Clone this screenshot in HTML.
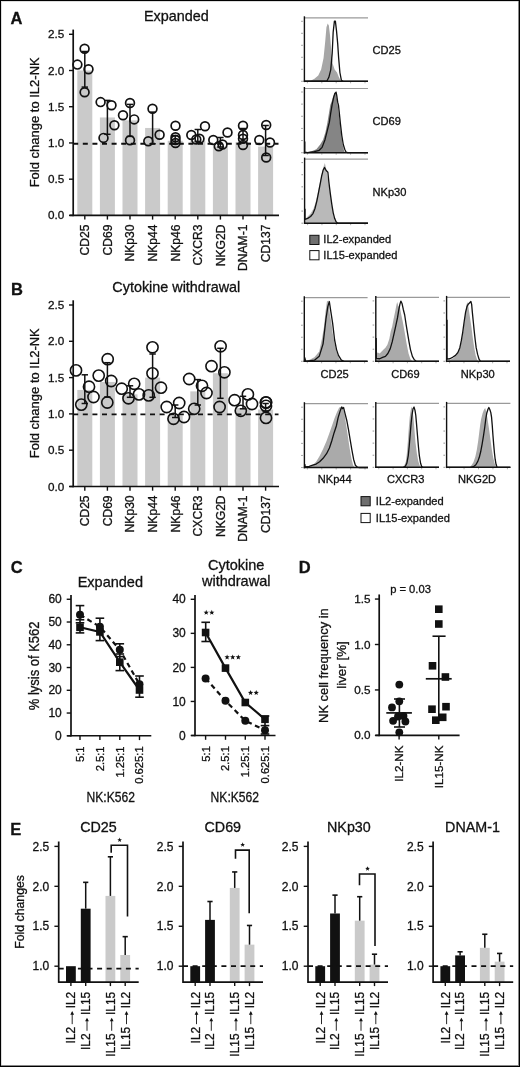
<!DOCTYPE html>
<html><head><meta charset="utf-8"><style>
html,body{margin:0;padding:0;background:#fff;}
body{width:520px;height:1067px;overflow:hidden;position:relative;}
svg{position:absolute;left:0;top:0;font-family:"Liberation Sans", sans-serif;filter:grayscale(1);}
text{stroke:#111;stroke-width:0.3px;}
.frame{position:absolute;left:0;top:0;width:520px;height:1067px;box-sizing:border-box;border:1px solid #000;box-shadow:inset -1px -1px 0 #888, inset 1px 1px 0 #ddd;}
</style></head><body>
<svg width="520" height="1067" viewBox="0 0 520 1067">
<rect x="77.30" y="70.50" width="15.00" height="144.90" fill="#cacaca" />
<rect x="99.90" y="117.45" width="15.00" height="97.95" fill="#cacaca" />
<rect x="122.50" y="120.35" width="15.00" height="95.05" fill="#cacaca" />
<rect x="145.10" y="127.95" width="15.00" height="87.45" fill="#cacaca" />
<rect x="167.70" y="140.78" width="15.00" height="74.62" fill="#cacaca" />
<rect x="190.30" y="140.78" width="15.00" height="74.62" fill="#cacaca" />
<rect x="212.90" y="146.57" width="15.00" height="68.83" fill="#cacaca" />
<rect x="235.50" y="142.23" width="15.00" height="73.17" fill="#cacaca" />
<rect x="258.10" y="146.57" width="15.00" height="68.83" fill="#cacaca" />
<line x1="73.20" y1="143.75" x2="278.50" y2="143.75" stroke="#111" stroke-width="1.9" stroke-dasharray="5,4.6"/>
<line x1="84.80" y1="51.50" x2="84.80" y2="87.10" stroke="#111" stroke-width="1.5" />
<line x1="81.60" y1="51.50" x2="88.00" y2="51.50" stroke="#111" stroke-width="1.5" />
<line x1="81.60" y1="87.10" x2="88.00" y2="87.10" stroke="#111" stroke-width="1.5" />
<line x1="107.40" y1="100.40" x2="107.40" y2="134.30" stroke="#111" stroke-width="1.5" />
<line x1="104.20" y1="100.40" x2="110.60" y2="100.40" stroke="#111" stroke-width="1.5" />
<line x1="104.20" y1="134.30" x2="110.60" y2="134.30" stroke="#111" stroke-width="1.5" />
<line x1="130.00" y1="104.40" x2="130.00" y2="136.40" stroke="#111" stroke-width="1.5" />
<line x1="126.80" y1="104.40" x2="133.20" y2="104.40" stroke="#111" stroke-width="1.5" />
<line x1="126.80" y1="136.40" x2="133.20" y2="136.40" stroke="#111" stroke-width="1.5" />
<line x1="152.60" y1="112.10" x2="152.60" y2="143.80" stroke="#111" stroke-width="1.5" />
<line x1="149.40" y1="112.10" x2="155.80" y2="112.10" stroke="#111" stroke-width="1.5" />
<line x1="149.40" y1="143.80" x2="155.80" y2="143.80" stroke="#111" stroke-width="1.5" />
<line x1="175.20" y1="135.50" x2="175.20" y2="143.50" stroke="#111" stroke-width="1.5" />
<line x1="172.00" y1="135.50" x2="178.40" y2="135.50" stroke="#111" stroke-width="1.5" />
<line x1="172.00" y1="143.50" x2="178.40" y2="143.50" stroke="#111" stroke-width="1.5" />
<line x1="197.80" y1="129.50" x2="197.80" y2="141.50" stroke="#111" stroke-width="1.5" />
<line x1="194.60" y1="129.50" x2="201.00" y2="129.50" stroke="#111" stroke-width="1.5" />
<line x1="194.60" y1="141.50" x2="201.00" y2="141.50" stroke="#111" stroke-width="1.5" />
<line x1="220.40" y1="137.50" x2="220.40" y2="147.00" stroke="#111" stroke-width="1.5" />
<line x1="217.20" y1="137.50" x2="223.60" y2="137.50" stroke="#111" stroke-width="1.5" />
<line x1="217.20" y1="147.00" x2="223.60" y2="147.00" stroke="#111" stroke-width="1.5" />
<line x1="243.00" y1="128.50" x2="243.00" y2="142.50" stroke="#111" stroke-width="1.5" />
<line x1="239.80" y1="128.50" x2="246.20" y2="128.50" stroke="#111" stroke-width="1.5" />
<line x1="239.80" y1="142.50" x2="246.20" y2="142.50" stroke="#111" stroke-width="1.5" />
<line x1="265.60" y1="125.50" x2="265.60" y2="155.50" stroke="#111" stroke-width="1.5" />
<line x1="262.40" y1="125.50" x2="268.80" y2="125.50" stroke="#111" stroke-width="1.5" />
<line x1="262.40" y1="155.50" x2="268.80" y2="155.50" stroke="#111" stroke-width="1.5" />
<circle cx="84.60" cy="48.80" r="4.4" fill="none" stroke="#111" stroke-width="1.7"/>
<circle cx="77.40" cy="64.60" r="4.4" fill="none" stroke="#111" stroke-width="1.7"/>
<circle cx="88.50" cy="69.20" r="4.4" fill="none" stroke="#111" stroke-width="1.7"/>
<circle cx="84.60" cy="92.30" r="4.4" fill="none" stroke="#111" stroke-width="1.7"/>
<circle cx="100.60" cy="102.10" r="4.4" fill="none" stroke="#111" stroke-width="1.7"/>
<circle cx="111.50" cy="105.20" r="4.4" fill="none" stroke="#111" stroke-width="1.7"/>
<circle cx="114.40" cy="125.20" r="4.4" fill="none" stroke="#111" stroke-width="1.7"/>
<circle cx="103.50" cy="137.90" r="4.4" fill="none" stroke="#111" stroke-width="1.7"/>
<circle cx="123.00" cy="115.20" r="4.4" fill="none" stroke="#111" stroke-width="1.7"/>
<circle cx="130.00" cy="103.00" r="4.4" fill="none" stroke="#111" stroke-width="1.7"/>
<circle cx="134.20" cy="119.40" r="4.4" fill="none" stroke="#111" stroke-width="1.7"/>
<circle cx="130.00" cy="140.20" r="4.4" fill="none" stroke="#111" stroke-width="1.7"/>
<circle cx="152.50" cy="108.80" r="4.4" fill="none" stroke="#111" stroke-width="1.7"/>
<circle cx="159.60" cy="134.80" r="4.4" fill="none" stroke="#111" stroke-width="1.7"/>
<circle cx="148.30" cy="141.20" r="4.4" fill="none" stroke="#111" stroke-width="1.7"/>
<circle cx="175.50" cy="125.80" r="4.4" fill="none" stroke="#111" stroke-width="1.7"/>
<circle cx="175.50" cy="137.20" r="4.4" fill="none" stroke="#111" stroke-width="1.7"/>
<circle cx="175.50" cy="140.00" r="4.4" fill="none" stroke="#111" stroke-width="1.7"/>
<circle cx="175.50" cy="143.00" r="4.4" fill="none" stroke="#111" stroke-width="1.7"/>
<circle cx="191.30" cy="135.00" r="4.4" fill="none" stroke="#111" stroke-width="1.7"/>
<circle cx="205.00" cy="126.30" r="4.4" fill="none" stroke="#111" stroke-width="1.7"/>
<circle cx="196.30" cy="139.50" r="4.4" fill="none" stroke="#111" stroke-width="1.7"/>
<circle cx="199.50" cy="138.80" r="4.4" fill="none" stroke="#111" stroke-width="1.7"/>
<circle cx="213.30" cy="140.00" r="4.4" fill="none" stroke="#111" stroke-width="1.7"/>
<circle cx="227.50" cy="132.50" r="4.4" fill="none" stroke="#111" stroke-width="1.7"/>
<circle cx="218.80" cy="146.30" r="4.4" fill="none" stroke="#111" stroke-width="1.7"/>
<circle cx="222.50" cy="144.50" r="4.4" fill="none" stroke="#111" stroke-width="1.7"/>
<circle cx="243.00" cy="125.80" r="4.4" fill="none" stroke="#111" stroke-width="1.7"/>
<circle cx="243.00" cy="135.00" r="4.4" fill="none" stroke="#111" stroke-width="1.7"/>
<circle cx="243.00" cy="138.80" r="4.4" fill="none" stroke="#111" stroke-width="1.7"/>
<circle cx="243.00" cy="145.00" r="4.4" fill="none" stroke="#111" stroke-width="1.7"/>
<circle cx="259.30" cy="140.00" r="4.4" fill="none" stroke="#111" stroke-width="1.7"/>
<circle cx="266.20" cy="125.00" r="4.4" fill="none" stroke="#111" stroke-width="1.7"/>
<circle cx="270.00" cy="142.50" r="4.4" fill="none" stroke="#111" stroke-width="1.7"/>
<circle cx="266.20" cy="157.50" r="4.4" fill="none" stroke="#111" stroke-width="1.7"/>
<line x1="73.20" y1="29.58" x2="73.20" y2="216.20" stroke="#111" stroke-width="1.7" />
<line x1="69.60" y1="215.40" x2="279.00" y2="215.40" stroke="#111" stroke-width="1.6" />
<line x1="69.00" y1="215.40" x2="73.20" y2="215.40" stroke="#111" stroke-width="1.4" />
<text x="64.20" y="219.40" font-size="11.7" text-anchor="end" font-weight="normal" fill="#111" >0.0</text>
<line x1="69.00" y1="179.18" x2="73.20" y2="179.18" stroke="#111" stroke-width="1.4" />
<text x="64.20" y="183.18" font-size="11.7" text-anchor="end" font-weight="normal" fill="#111" >0.5</text>
<line x1="69.00" y1="142.95" x2="73.20" y2="142.95" stroke="#111" stroke-width="1.4" />
<text x="64.20" y="146.95" font-size="11.7" text-anchor="end" font-weight="normal" fill="#111" >1.0</text>
<line x1="69.00" y1="106.72" x2="73.20" y2="106.72" stroke="#111" stroke-width="1.4" />
<text x="64.20" y="110.72" font-size="11.7" text-anchor="end" font-weight="normal" fill="#111" >1.5</text>
<line x1="69.00" y1="70.50" x2="73.20" y2="70.50" stroke="#111" stroke-width="1.4" />
<text x="64.20" y="74.50" font-size="11.7" text-anchor="end" font-weight="normal" fill="#111" >2.0</text>
<line x1="69.00" y1="34.28" x2="73.20" y2="34.28" stroke="#111" stroke-width="1.4" />
<text x="64.20" y="38.28" font-size="11.7" text-anchor="end" font-weight="normal" fill="#111" >2.5</text>
<line x1="84.80" y1="215.40" x2="84.80" y2="219.60" stroke="#111" stroke-width="1.4" />
<text transform="translate(89.20,224.60) rotate(-90)" font-size="12.1" text-anchor="end" fill="#111" >CD25</text>
<line x1="107.40" y1="215.40" x2="107.40" y2="219.60" stroke="#111" stroke-width="1.4" />
<text transform="translate(111.80,224.60) rotate(-90)" font-size="12.1" text-anchor="end" fill="#111" >CD69</text>
<line x1="130.00" y1="215.40" x2="130.00" y2="219.60" stroke="#111" stroke-width="1.4" />
<text transform="translate(134.40,224.60) rotate(-90)" font-size="12.1" text-anchor="end" fill="#111" >NKp30</text>
<line x1="152.60" y1="215.40" x2="152.60" y2="219.60" stroke="#111" stroke-width="1.4" />
<text transform="translate(157.00,224.60) rotate(-90)" font-size="12.1" text-anchor="end" fill="#111" >NKp44</text>
<line x1="175.20" y1="215.40" x2="175.20" y2="219.60" stroke="#111" stroke-width="1.4" />
<text transform="translate(179.60,224.60) rotate(-90)" font-size="12.1" text-anchor="end" fill="#111" >NKp46</text>
<line x1="197.80" y1="215.40" x2="197.80" y2="219.60" stroke="#111" stroke-width="1.4" />
<text transform="translate(202.20,224.60) rotate(-90)" font-size="12.1" text-anchor="end" fill="#111" >CXCR3</text>
<line x1="220.40" y1="215.40" x2="220.40" y2="219.60" stroke="#111" stroke-width="1.4" />
<text transform="translate(224.80,224.60) rotate(-90)" font-size="12.1" text-anchor="end" fill="#111" >NKG2D</text>
<line x1="243.00" y1="215.40" x2="243.00" y2="219.60" stroke="#111" stroke-width="1.4" />
<text transform="translate(247.40,224.60) rotate(-90)" font-size="12.1" text-anchor="end" fill="#111" >DNAM-1</text>
<line x1="265.60" y1="215.40" x2="265.60" y2="219.60" stroke="#111" stroke-width="1.4" />
<text transform="translate(270.00,224.60) rotate(-90)" font-size="12.1" text-anchor="end" fill="#111" >CD137</text>
<text transform="translate(38.80,122.34) rotate(-90)" font-size="13" text-anchor="middle" fill="#111" >Fold change to IL2-NK</text>
<text x="176.30" y="21.30" font-size="14.4" text-anchor="middle" font-weight="normal" fill="#111" >Expanded</text>
<text x="10.50" y="23.60" font-size="16.5" text-anchor="start" font-weight="bold" fill="#111" >A</text>
<rect x="77.30" y="389.94" width="15.00" height="96.56" fill="#cacaca" />
<rect x="99.90" y="381.96" width="15.00" height="104.54" fill="#cacaca" />
<rect x="122.50" y="394.30" width="15.00" height="92.20" fill="#cacaca" />
<rect x="145.10" y="377.60" width="15.00" height="108.90" fill="#cacaca" />
<rect x="167.70" y="415.35" width="15.00" height="71.15" fill="#cacaca" />
<rect x="190.30" y="391.39" width="15.00" height="95.11" fill="#cacaca" />
<rect x="212.90" y="373.24" width="15.00" height="113.26" fill="#cacaca" />
<rect x="235.50" y="408.09" width="15.00" height="78.41" fill="#cacaca" />
<rect x="258.10" y="409.54" width="15.00" height="76.96" fill="#cacaca" />
<line x1="73.20" y1="414.40" x2="278.50" y2="414.40" stroke="#111" stroke-width="1.9" stroke-dasharray="5,4.6"/>
<line x1="84.80" y1="374.80" x2="84.80" y2="403.50" stroke="#111" stroke-width="1.5" />
<line x1="81.60" y1="374.80" x2="88.00" y2="374.80" stroke="#111" stroke-width="1.5" />
<line x1="81.60" y1="403.50" x2="88.00" y2="403.50" stroke="#111" stroke-width="1.5" />
<line x1="107.40" y1="362.70" x2="107.40" y2="397.00" stroke="#111" stroke-width="1.5" />
<line x1="104.20" y1="362.70" x2="110.60" y2="362.70" stroke="#111" stroke-width="1.5" />
<line x1="104.20" y1="397.00" x2="110.60" y2="397.00" stroke="#111" stroke-width="1.5" />
<line x1="130.00" y1="385.80" x2="130.00" y2="397.30" stroke="#111" stroke-width="1.5" />
<line x1="126.80" y1="385.80" x2="133.20" y2="385.80" stroke="#111" stroke-width="1.5" />
<line x1="126.80" y1="397.30" x2="133.20" y2="397.30" stroke="#111" stroke-width="1.5" />
<line x1="152.60" y1="354.00" x2="152.60" y2="397.30" stroke="#111" stroke-width="1.5" />
<line x1="149.40" y1="354.00" x2="155.80" y2="354.00" stroke="#111" stroke-width="1.5" />
<line x1="149.40" y1="397.30" x2="155.80" y2="397.30" stroke="#111" stroke-width="1.5" />
<line x1="175.20" y1="405.00" x2="175.20" y2="417.50" stroke="#111" stroke-width="1.5" />
<line x1="172.00" y1="405.00" x2="178.40" y2="405.00" stroke="#111" stroke-width="1.5" />
<line x1="172.00" y1="417.50" x2="178.40" y2="417.50" stroke="#111" stroke-width="1.5" />
<line x1="197.80" y1="379.60" x2="197.80" y2="405.00" stroke="#111" stroke-width="1.5" />
<line x1="194.60" y1="379.60" x2="201.00" y2="379.60" stroke="#111" stroke-width="1.5" />
<line x1="194.60" y1="405.00" x2="201.00" y2="405.00" stroke="#111" stroke-width="1.5" />
<line x1="220.40" y1="348.30" x2="220.40" y2="398.30" stroke="#111" stroke-width="1.5" />
<line x1="217.20" y1="348.30" x2="223.60" y2="348.30" stroke="#111" stroke-width="1.5" />
<line x1="217.20" y1="398.30" x2="223.60" y2="398.30" stroke="#111" stroke-width="1.5" />
<line x1="243.00" y1="396.30" x2="243.00" y2="408.80" stroke="#111" stroke-width="1.5" />
<line x1="239.80" y1="396.30" x2="246.20" y2="396.30" stroke="#111" stroke-width="1.5" />
<line x1="239.80" y1="408.80" x2="246.20" y2="408.80" stroke="#111" stroke-width="1.5" />
<line x1="265.60" y1="403.50" x2="265.60" y2="411.00" stroke="#111" stroke-width="1.5" />
<line x1="262.40" y1="403.50" x2="268.80" y2="403.50" stroke="#111" stroke-width="1.5" />
<line x1="262.40" y1="411.00" x2="268.80" y2="411.00" stroke="#111" stroke-width="1.5" />
<circle cx="76.00" cy="370.40" r="5.6" fill="none" stroke="#111" stroke-width="1.6"/>
<circle cx="81.30" cy="404.60" r="5.6" fill="none" stroke="#111" stroke-width="1.6"/>
<circle cx="89.00" cy="386.70" r="5.6" fill="none" stroke="#111" stroke-width="1.6"/>
<circle cx="93.50" cy="397.00" r="5.6" fill="none" stroke="#111" stroke-width="1.6"/>
<circle cx="98.70" cy="375.60" r="5.6" fill="none" stroke="#111" stroke-width="1.6"/>
<circle cx="107.70" cy="359.20" r="5.6" fill="none" stroke="#111" stroke-width="1.6"/>
<circle cx="111.20" cy="381.00" r="5.6" fill="none" stroke="#111" stroke-width="1.6"/>
<circle cx="107.30" cy="402.50" r="5.6" fill="none" stroke="#111" stroke-width="1.6"/>
<circle cx="121.70" cy="388.70" r="5.6" fill="none" stroke="#111" stroke-width="1.6"/>
<circle cx="128.50" cy="398.30" r="5.6" fill="none" stroke="#111" stroke-width="1.6"/>
<circle cx="134.20" cy="383.80" r="5.6" fill="none" stroke="#111" stroke-width="1.6"/>
<circle cx="139.00" cy="394.40" r="5.6" fill="none" stroke="#111" stroke-width="1.6"/>
<circle cx="152.50" cy="347.30" r="5.6" fill="none" stroke="#111" stroke-width="1.6"/>
<circle cx="152.50" cy="373.30" r="5.6" fill="none" stroke="#111" stroke-width="1.6"/>
<circle cx="148.70" cy="395.40" r="5.6" fill="none" stroke="#111" stroke-width="1.6"/>
<circle cx="161.00" cy="387.70" r="5.6" fill="none" stroke="#111" stroke-width="1.6"/>
<circle cx="166.70" cy="407.00" r="5.6" fill="none" stroke="#111" stroke-width="1.6"/>
<circle cx="179.20" cy="403.00" r="5.6" fill="none" stroke="#111" stroke-width="1.6"/>
<circle cx="173.50" cy="418.80" r="5.6" fill="none" stroke="#111" stroke-width="1.6"/>
<circle cx="184.00" cy="417.00" r="5.6" fill="none" stroke="#111" stroke-width="1.6"/>
<circle cx="189.20" cy="379.00" r="5.6" fill="none" stroke="#111" stroke-width="1.6"/>
<circle cx="202.00" cy="385.80" r="5.6" fill="none" stroke="#111" stroke-width="1.6"/>
<circle cx="206.50" cy="393.00" r="5.6" fill="none" stroke="#111" stroke-width="1.6"/>
<circle cx="194.20" cy="408.80" r="5.6" fill="none" stroke="#111" stroke-width="1.6"/>
<circle cx="220.60" cy="346.30" r="5.6" fill="none" stroke="#111" stroke-width="1.6"/>
<circle cx="211.50" cy="366.20" r="5.6" fill="none" stroke="#111" stroke-width="1.6"/>
<circle cx="224.40" cy="372.30" r="5.6" fill="none" stroke="#111" stroke-width="1.6"/>
<circle cx="219.60" cy="407.00" r="5.6" fill="none" stroke="#111" stroke-width="1.6"/>
<circle cx="234.60" cy="400.20" r="5.6" fill="none" stroke="#111" stroke-width="1.6"/>
<circle cx="247.90" cy="394.40" r="5.6" fill="none" stroke="#111" stroke-width="1.6"/>
<circle cx="252.00" cy="404.00" r="5.6" fill="none" stroke="#111" stroke-width="1.6"/>
<circle cx="240.80" cy="410.80" r="5.6" fill="none" stroke="#111" stroke-width="1.6"/>
<circle cx="266.00" cy="402.30" r="5.6" fill="none" stroke="#111" stroke-width="1.6"/>
<circle cx="266.00" cy="402.60" r="5.6" fill="none" stroke="#111" stroke-width="1.6"/>
<circle cx="266.00" cy="405.90" r="5.6" fill="none" stroke="#111" stroke-width="1.6"/>
<circle cx="266.00" cy="417.90" r="5.6" fill="none" stroke="#111" stroke-width="1.6"/>
<line x1="73.20" y1="300.30" x2="73.20" y2="487.30" stroke="#111" stroke-width="1.7" />
<line x1="69.60" y1="486.50" x2="279.00" y2="486.50" stroke="#111" stroke-width="1.6" />
<line x1="69.00" y1="486.50" x2="73.20" y2="486.50" stroke="#111" stroke-width="1.4" />
<text x="64.20" y="490.50" font-size="11.7" text-anchor="end" font-weight="normal" fill="#111" >0.0</text>
<line x1="69.00" y1="450.20" x2="73.20" y2="450.20" stroke="#111" stroke-width="1.4" />
<text x="64.20" y="454.20" font-size="11.7" text-anchor="end" font-weight="normal" fill="#111" >0.5</text>
<line x1="69.00" y1="413.90" x2="73.20" y2="413.90" stroke="#111" stroke-width="1.4" />
<text x="64.20" y="417.90" font-size="11.7" text-anchor="end" font-weight="normal" fill="#111" >1.0</text>
<line x1="69.00" y1="377.60" x2="73.20" y2="377.60" stroke="#111" stroke-width="1.4" />
<text x="64.20" y="381.60" font-size="11.7" text-anchor="end" font-weight="normal" fill="#111" >1.5</text>
<line x1="69.00" y1="341.30" x2="73.20" y2="341.30" stroke="#111" stroke-width="1.4" />
<text x="64.20" y="345.30" font-size="11.7" text-anchor="end" font-weight="normal" fill="#111" >2.0</text>
<line x1="69.00" y1="305.00" x2="73.20" y2="305.00" stroke="#111" stroke-width="1.4" />
<text x="64.20" y="309.00" font-size="11.7" text-anchor="end" font-weight="normal" fill="#111" >2.5</text>
<line x1="84.80" y1="486.50" x2="84.80" y2="490.70" stroke="#111" stroke-width="1.4" />
<text transform="translate(89.20,495.40) rotate(-90)" font-size="12.1" text-anchor="end" fill="#111" >CD25</text>
<line x1="107.40" y1="486.50" x2="107.40" y2="490.70" stroke="#111" stroke-width="1.4" />
<text transform="translate(111.80,495.40) rotate(-90)" font-size="12.1" text-anchor="end" fill="#111" >CD69</text>
<line x1="130.00" y1="486.50" x2="130.00" y2="490.70" stroke="#111" stroke-width="1.4" />
<text transform="translate(134.40,495.40) rotate(-90)" font-size="12.1" text-anchor="end" fill="#111" >NKp30</text>
<line x1="152.60" y1="486.50" x2="152.60" y2="490.70" stroke="#111" stroke-width="1.4" />
<text transform="translate(157.00,495.40) rotate(-90)" font-size="12.1" text-anchor="end" fill="#111" >NKp44</text>
<line x1="175.20" y1="486.50" x2="175.20" y2="490.70" stroke="#111" stroke-width="1.4" />
<text transform="translate(179.60,495.40) rotate(-90)" font-size="12.1" text-anchor="end" fill="#111" >NKp46</text>
<line x1="197.80" y1="486.50" x2="197.80" y2="490.70" stroke="#111" stroke-width="1.4" />
<text transform="translate(202.20,495.40) rotate(-90)" font-size="12.1" text-anchor="end" fill="#111" >CXCR3</text>
<line x1="220.40" y1="486.50" x2="220.40" y2="490.70" stroke="#111" stroke-width="1.4" />
<text transform="translate(224.80,495.40) rotate(-90)" font-size="12.1" text-anchor="end" fill="#111" >NKG2D</text>
<line x1="243.00" y1="486.50" x2="243.00" y2="490.70" stroke="#111" stroke-width="1.4" />
<text transform="translate(247.40,495.40) rotate(-90)" font-size="12.1" text-anchor="end" fill="#111" >DNAM-1</text>
<line x1="265.60" y1="486.50" x2="265.60" y2="490.70" stroke="#111" stroke-width="1.4" />
<text transform="translate(270.00,495.40) rotate(-90)" font-size="12.1" text-anchor="end" fill="#111" >CD137</text>
<text transform="translate(38.80,393.25) rotate(-90)" font-size="13" text-anchor="middle" fill="#111" >Fold change to IL2-NK</text>
<text x="176.30" y="292.30" font-size="14.4" text-anchor="middle" font-weight="normal" fill="#111" >Cytokine withdrawal</text>
<text x="11.00" y="295.40" font-size="16.5" text-anchor="start" font-weight="bold" fill="#111" >B</text>
<line x1="304.40" y1="17.80" x2="368.00" y2="17.80" stroke="#9a9a9a" stroke-width="1.2" />
<line x1="301.20" y1="81.30" x2="302.80" y2="81.30" stroke="#8a8a8a" stroke-width="0.9" />
<line x1="301.20" y1="69.30" x2="302.80" y2="69.30" stroke="#8a8a8a" stroke-width="0.9" />
<line x1="301.20" y1="57.30" x2="302.80" y2="57.30" stroke="#8a8a8a" stroke-width="0.9" />
<line x1="301.20" y1="45.30" x2="302.80" y2="45.30" stroke="#8a8a8a" stroke-width="0.9" />
<line x1="301.20" y1="33.30" x2="302.80" y2="33.30" stroke="#8a8a8a" stroke-width="0.9" />
<line x1="301.20" y1="21.30" x2="302.80" y2="21.30" stroke="#8a8a8a" stroke-width="0.9" />
<line x1="307.40" y1="81.90" x2="307.40" y2="83.30" stroke="#999" stroke-width="0.8" />
<line x1="321.80" y1="81.90" x2="321.80" y2="83.30" stroke="#999" stroke-width="0.8" />
<line x1="336.20" y1="81.90" x2="336.20" y2="83.30" stroke="#999" stroke-width="0.8" />
<line x1="350.60" y1="81.90" x2="350.60" y2="83.30" stroke="#999" stroke-width="0.8" />
<line x1="365.00" y1="81.90" x2="365.00" y2="83.30" stroke="#999" stroke-width="0.8" />
<path d="M304.40,81.30 L304.40,81.30 L310.58,80.67 L314.42,78.75 L318.27,75.38 L321.15,69.62 L323.56,58.08 L325.19,41.73 L326.44,27.31 L327.69,23.46 L328.85,25.38 L330.00,35.00 L331.25,50.38 L332.69,63.85 L334.62,69.62 L337.02,72.50 L338.94,77.31 L340.87,80.67 L342.79,81.30 L342.79,81.30 Z" fill="#a6a6a6" stroke="none"/>
<path d="M304.80,81.15 L326.92,81.06 L328.85,77.31 L330.77,69.62 L332.21,53.27 L333.17,32.12 L334.42,21.06 L335.38,21.06 L336.54,31.15 L337.69,43.65 L338.65,58.08 L339.90,72.50 L341.35,80.19 L343.27,81.30 L368.00,81.30" fill="none" stroke="#111" stroke-width="1.3" stroke-linejoin="round"/>
<line x1="304.40" y1="16.30" x2="304.40" y2="82.10" stroke="#111" stroke-width="1.4" />
<line x1="303.70" y1="81.30" x2="368.00" y2="81.30" stroke="#111" stroke-width="1.5" />
<line x1="304.40" y1="88.50" x2="368.00" y2="88.50" stroke="#9a9a9a" stroke-width="1.2" />
<line x1="301.20" y1="152.70" x2="302.80" y2="152.70" stroke="#8a8a8a" stroke-width="0.9" />
<line x1="301.20" y1="140.56" x2="302.80" y2="140.56" stroke="#8a8a8a" stroke-width="0.9" />
<line x1="301.20" y1="128.42" x2="302.80" y2="128.42" stroke="#8a8a8a" stroke-width="0.9" />
<line x1="301.20" y1="116.28" x2="302.80" y2="116.28" stroke="#8a8a8a" stroke-width="0.9" />
<line x1="301.20" y1="104.14" x2="302.80" y2="104.14" stroke="#8a8a8a" stroke-width="0.9" />
<line x1="301.20" y1="92.00" x2="302.80" y2="92.00" stroke="#8a8a8a" stroke-width="0.9" />
<line x1="307.40" y1="153.30" x2="307.40" y2="154.70" stroke="#999" stroke-width="0.8" />
<line x1="321.80" y1="153.30" x2="321.80" y2="154.70" stroke="#999" stroke-width="0.8" />
<line x1="336.20" y1="153.30" x2="336.20" y2="154.70" stroke="#999" stroke-width="0.8" />
<line x1="350.60" y1="153.30" x2="350.60" y2="154.70" stroke="#999" stroke-width="0.8" />
<line x1="365.00" y1="153.30" x2="365.00" y2="154.70" stroke="#999" stroke-width="0.8" />
<path d="M304.40,152.70 L304.40,152.67 L311.54,151.23 L316.35,149.31 L320.19,144.50 L323.08,139.69 L325.48,132.00 L327.40,122.38 L328.85,113.73 L330.29,105.08 L331.73,101.23 L333.17,96.42 L334.62,93.54 L335.77,92.58 L337.02,99.31 L338.46,110.85 L339.90,122.38 L341.35,135.85 L342.79,145.46 L344.23,151.23 L345.67,152.67 L345.67,152.70 Z" fill="#858585" stroke="none"/>
<path d="M304.80,141.62 L304.81,152.19 L307.69,152.67 L314.42,151.71 L319.23,150.27 L322.12,147.38 L325.00,139.69 L327.40,130.08 L329.33,122.38 L330.77,112.77 L332.21,104.12 L333.65,97.38 L334.81,93.54 L336.06,92.10 L336.73,95.46 L337.69,102.19 L338.46,105.08 L339.42,113.73 L340.38,123.35 L341.83,135.85 L343.27,144.50 L344.71,149.31 L346.15,152.19 L347.60,152.67 L368.00,152.70" fill="none" stroke="#111" stroke-width="1.3" stroke-linejoin="round"/>
<line x1="304.40" y1="87.00" x2="304.40" y2="153.50" stroke="#111" stroke-width="1.4" />
<line x1="303.70" y1="152.70" x2="368.00" y2="152.70" stroke="#111" stroke-width="1.5" />
<line x1="304.60" y1="159.10" x2="368.00" y2="159.10" stroke="#9a9a9a" stroke-width="1.2" />
<line x1="301.40" y1="223.20" x2="303.00" y2="223.20" stroke="#8a8a8a" stroke-width="0.9" />
<line x1="301.40" y1="211.08" x2="303.00" y2="211.08" stroke="#8a8a8a" stroke-width="0.9" />
<line x1="301.40" y1="198.96" x2="303.00" y2="198.96" stroke="#8a8a8a" stroke-width="0.9" />
<line x1="301.40" y1="186.84" x2="303.00" y2="186.84" stroke="#8a8a8a" stroke-width="0.9" />
<line x1="301.40" y1="174.72" x2="303.00" y2="174.72" stroke="#8a8a8a" stroke-width="0.9" />
<line x1="301.40" y1="162.60" x2="303.00" y2="162.60" stroke="#8a8a8a" stroke-width="0.9" />
<line x1="307.60" y1="223.80" x2="307.60" y2="225.20" stroke="#999" stroke-width="0.8" />
<line x1="321.95" y1="223.80" x2="321.95" y2="225.20" stroke="#999" stroke-width="0.8" />
<line x1="336.30" y1="223.80" x2="336.30" y2="225.20" stroke="#999" stroke-width="0.8" />
<line x1="350.65" y1="223.80" x2="350.65" y2="225.20" stroke="#999" stroke-width="0.8" />
<line x1="365.00" y1="223.80" x2="365.00" y2="225.20" stroke="#999" stroke-width="0.8" />
<path d="M304.81,223.20 L304.81,219.35 L307.69,216.46 L310.58,213.58 L313.46,208.77 L315.38,203.00 L317.31,195.31 L319.23,185.69 L320.67,178.96 L322.12,172.23 L323.56,166.46 L324.81,163.10 L325.96,167.42 L327.40,176.08 L328.85,184.73 L330.29,194.35 L331.73,204.92 L333.17,214.54 L334.62,220.31 L336.06,222.71 L337.50,223.19 L337.50,223.20 Z" fill="#b9b9b9" stroke="none"/>
<path d="M305.00,208.77 L305.00,219.35 L307.69,218.38 L310.58,216.46 L312.98,213.58 L314.90,208.77 L316.83,201.08 L318.75,191.46 L320.19,183.77 L321.63,176.08 L323.08,170.31 L324.52,167.42 L325.48,169.35 L326.44,170.79 L327.88,172.23 L328.85,181.85 L330.29,193.38 L331.73,203.96 L333.17,212.62 L334.62,218.38 L336.06,221.75 L337.50,223.00 L339.42,223.19 L368.00,223.20" fill="none" stroke="#111" stroke-width="1.3" stroke-linejoin="round"/>
<line x1="304.60" y1="157.60" x2="304.60" y2="224.00" stroke="#111" stroke-width="1.4" />
<line x1="303.90" y1="223.20" x2="368.00" y2="223.20" stroke="#111" stroke-width="1.5" />
<text x="372.50" y="54.00" font-size="11.1" text-anchor="start" font-weight="normal" fill="#111" >CD25</text>
<text x="372.50" y="125.00" font-size="11.1" text-anchor="start" font-weight="normal" fill="#111" >CD69</text>
<text x="372.50" y="195.70" font-size="11.1" text-anchor="start" font-weight="normal" fill="#111" >NKp30</text>
<rect x="309.80" y="235.30" width="9.20" height="9.20" fill="#6f6f6f" stroke="#111" stroke-width="1"/>
<rect x="309.80" y="250.60" width="9.20" height="9.20" fill="#fff" stroke="#111" stroke-width="1"/>
<text x="323.30" y="243.20" font-size="11.1" text-anchor="start" font-weight="normal" fill="#111" >IL2-expanded</text>
<text x="323.30" y="259.40" font-size="11.1" text-anchor="start" font-weight="normal" fill="#111" >IL15-expanded</text>
<line x1="304.30" y1="297.70" x2="367.60" y2="297.70" stroke="#9a9a9a" stroke-width="1.2" />
<line x1="301.10" y1="361.30" x2="302.70" y2="361.30" stroke="#8a8a8a" stroke-width="0.9" />
<line x1="301.10" y1="349.28" x2="302.70" y2="349.28" stroke="#8a8a8a" stroke-width="0.9" />
<line x1="301.10" y1="337.26" x2="302.70" y2="337.26" stroke="#8a8a8a" stroke-width="0.9" />
<line x1="301.10" y1="325.24" x2="302.70" y2="325.24" stroke="#8a8a8a" stroke-width="0.9" />
<line x1="301.10" y1="313.22" x2="302.70" y2="313.22" stroke="#8a8a8a" stroke-width="0.9" />
<line x1="301.10" y1="301.20" x2="302.70" y2="301.20" stroke="#8a8a8a" stroke-width="0.9" />
<line x1="307.30" y1="361.90" x2="307.30" y2="363.30" stroke="#999" stroke-width="0.8" />
<line x1="321.62" y1="361.90" x2="321.62" y2="363.30" stroke="#999" stroke-width="0.8" />
<line x1="335.95" y1="361.90" x2="335.95" y2="363.30" stroke="#999" stroke-width="0.8" />
<line x1="350.28" y1="361.90" x2="350.28" y2="363.30" stroke="#999" stroke-width="0.8" />
<line x1="364.60" y1="361.90" x2="364.60" y2="363.30" stroke="#999" stroke-width="0.8" />
<path d="M304.33,361.30 L304.33,361.30 L309.62,359.71 L314.42,357.31 L319.23,351.54 L322.12,338.08 L324.04,326.54 L325.48,312.12 L326.92,301.54 L328.37,300.58 L329.81,314.04 L331.25,321.73 L332.69,333.27 L334.62,343.85 L336.54,351.54 L339.42,359.23 L341.35,361.30 L341.35,361.30 Z" fill="#aaaaaa" stroke="none"/>
<path d="M304.70,357.31 L305.77,361.30 L314.42,360.19 L319.23,356.35 L323.08,343.85 L325.96,318.85 L327.88,306.35 L329.33,301.54 L330.77,311.15 L332.69,323.65 L334.62,340.00 L336.54,349.62 L338.46,355.38 L341.35,360.19 L344.23,361.30 L367.60,361.30" fill="none" stroke="#111" stroke-width="1.3" stroke-linejoin="round"/>
<line x1="304.30" y1="296.20" x2="304.30" y2="362.10" stroke="#111" stroke-width="1.4" />
<line x1="303.60" y1="361.30" x2="367.60" y2="361.30" stroke="#111" stroke-width="1.5" />
<line x1="375.80" y1="297.40" x2="439.00" y2="297.40" stroke="#9a9a9a" stroke-width="1.2" />
<line x1="372.60" y1="361.30" x2="374.20" y2="361.30" stroke="#8a8a8a" stroke-width="0.9" />
<line x1="372.60" y1="349.22" x2="374.20" y2="349.22" stroke="#8a8a8a" stroke-width="0.9" />
<line x1="372.60" y1="337.14" x2="374.20" y2="337.14" stroke="#8a8a8a" stroke-width="0.9" />
<line x1="372.60" y1="325.06" x2="374.20" y2="325.06" stroke="#8a8a8a" stroke-width="0.9" />
<line x1="372.60" y1="312.98" x2="374.20" y2="312.98" stroke="#8a8a8a" stroke-width="0.9" />
<line x1="372.60" y1="300.90" x2="374.20" y2="300.90" stroke="#8a8a8a" stroke-width="0.9" />
<line x1="378.80" y1="361.90" x2="378.80" y2="363.30" stroke="#999" stroke-width="0.8" />
<line x1="393.10" y1="361.90" x2="393.10" y2="363.30" stroke="#999" stroke-width="0.8" />
<line x1="407.40" y1="361.90" x2="407.40" y2="363.30" stroke="#999" stroke-width="0.8" />
<line x1="421.70" y1="361.90" x2="421.70" y2="363.30" stroke="#999" stroke-width="0.8" />
<line x1="436.00" y1="361.90" x2="436.00" y2="363.30" stroke="#999" stroke-width="0.8" />
<path d="M375.85,361.30 L375.85,353.46 L377.77,352.50 L379.69,353.46 L381.62,351.54 L383.54,349.62 L385.46,347.69 L387.38,344.81 L389.31,339.04 L390.75,331.35 L392.19,326.54 L393.63,318.85 L395.08,312.12 L396.52,304.42 L397.19,302.02 L398.44,306.35 L399.88,307.31 L401.33,315.00 L402.77,321.73 L404.69,332.31 L406.62,343.85 L408.54,353.46 L410.46,359.23 L412.38,361.30 L412.38,361.30 Z" fill="#aaaaaa" stroke="none"/>
<path d="M376.20,338.08 L376.33,358.27 L379.69,358.75 L382.58,357.31 L385.46,356.35 L387.87,353.46 L390.27,348.65 L392.19,341.92 L394.12,333.27 L396.04,324.62 L397.48,317.88 L398.92,309.23 L399.88,304.42 L400.85,301.06 L402.00,303.46 L403.25,309.23 L404.69,315.00 L406.13,324.62 L407.58,333.27 L409.02,341.92 L410.46,349.62 L412.38,356.35 L414.31,359.71 L416.23,361.15 L418.15,361.30 L439.00,361.30" fill="none" stroke="#111" stroke-width="1.3" stroke-linejoin="round"/>
<line x1="375.80" y1="295.90" x2="375.80" y2="362.10" stroke="#111" stroke-width="1.4" />
<line x1="375.10" y1="361.30" x2="439.00" y2="361.30" stroke="#111" stroke-width="1.5" />
<line x1="446.60" y1="297.40" x2="510.00" y2="297.40" stroke="#9a9a9a" stroke-width="1.2" />
<line x1="443.40" y1="361.30" x2="445.00" y2="361.30" stroke="#8a8a8a" stroke-width="0.9" />
<line x1="443.40" y1="349.22" x2="445.00" y2="349.22" stroke="#8a8a8a" stroke-width="0.9" />
<line x1="443.40" y1="337.14" x2="445.00" y2="337.14" stroke="#8a8a8a" stroke-width="0.9" />
<line x1="443.40" y1="325.06" x2="445.00" y2="325.06" stroke="#8a8a8a" stroke-width="0.9" />
<line x1="443.40" y1="312.98" x2="445.00" y2="312.98" stroke="#8a8a8a" stroke-width="0.9" />
<line x1="443.40" y1="300.90" x2="445.00" y2="300.90" stroke="#8a8a8a" stroke-width="0.9" />
<line x1="449.60" y1="361.90" x2="449.60" y2="363.30" stroke="#999" stroke-width="0.8" />
<line x1="463.95" y1="361.90" x2="463.95" y2="363.30" stroke="#999" stroke-width="0.8" />
<line x1="478.30" y1="361.90" x2="478.30" y2="363.30" stroke="#999" stroke-width="0.8" />
<line x1="492.65" y1="361.90" x2="492.65" y2="363.30" stroke="#999" stroke-width="0.8" />
<line x1="507.00" y1="361.90" x2="507.00" y2="363.30" stroke="#999" stroke-width="0.8" />
<path d="M446.85,361.30 L446.85,360.67 L449.73,359.71 L452.62,358.75 L455.50,356.35 L458.38,352.50 L460.31,346.73 L461.75,340.00 L463.19,331.35 L464.35,321.73 L465.60,312.12 L466.56,304.42 L467.52,302.02 L468.48,307.31 L469.92,316.92 L471.37,326.54 L472.81,338.08 L474.25,347.69 L475.69,355.38 L477.13,359.71 L478.58,361.30 L478.58,361.30 Z" fill="#aaaaaa" stroke="none"/>
<path d="M447.00,319.81 L447.04,359.23 L449.73,358.75 L452.62,357.31 L455.50,355.38 L457.90,352.50 L459.83,347.69 L461.27,340.96 L462.71,332.31 L464.15,321.73 L465.60,312.12 L467.04,306.35 L468.48,303.94 L469.92,302.50 L470.88,301.54 L471.65,304.42 L472.33,312.12 L473.29,321.73 L474.25,331.35 L475.21,340.00 L476.17,347.69 L477.62,354.42 L479.06,359.23 L480.50,361.30 L510.00,361.30" fill="none" stroke="#111" stroke-width="1.3" stroke-linejoin="round"/>
<line x1="446.60" y1="295.90" x2="446.60" y2="362.10" stroke="#111" stroke-width="1.4" />
<line x1="445.90" y1="361.30" x2="510.00" y2="361.30" stroke="#111" stroke-width="1.5" />
<line x1="304.40" y1="403.70" x2="368.00" y2="403.70" stroke="#9a9a9a" stroke-width="1.2" />
<line x1="301.20" y1="467.50" x2="302.80" y2="467.50" stroke="#8a8a8a" stroke-width="0.9" />
<line x1="301.20" y1="455.44" x2="302.80" y2="455.44" stroke="#8a8a8a" stroke-width="0.9" />
<line x1="301.20" y1="443.38" x2="302.80" y2="443.38" stroke="#8a8a8a" stroke-width="0.9" />
<line x1="301.20" y1="431.32" x2="302.80" y2="431.32" stroke="#8a8a8a" stroke-width="0.9" />
<line x1="301.20" y1="419.26" x2="302.80" y2="419.26" stroke="#8a8a8a" stroke-width="0.9" />
<line x1="301.20" y1="407.20" x2="302.80" y2="407.20" stroke="#8a8a8a" stroke-width="0.9" />
<line x1="307.40" y1="468.10" x2="307.40" y2="469.50" stroke="#999" stroke-width="0.8" />
<line x1="321.80" y1="468.10" x2="321.80" y2="469.50" stroke="#999" stroke-width="0.8" />
<line x1="336.20" y1="468.10" x2="336.20" y2="469.50" stroke="#999" stroke-width="0.8" />
<line x1="350.60" y1="468.10" x2="350.60" y2="469.50" stroke="#999" stroke-width="0.8" />
<line x1="365.00" y1="468.10" x2="365.00" y2="469.50" stroke="#999" stroke-width="0.8" />
<path d="M304.62,467.50 L304.62,467.50 L309.23,466.96 L312.69,465.23 L316.15,461.77 L319.61,456.00 L323.08,449.07 L326.54,441.00 L329.42,432.92 L332.31,424.85 L334.61,417.92 L336.92,412.15 L339.23,407.54 L340.96,406.96 L342.69,406.96 L344.42,413.31 L346.15,424.85 L347.88,436.38 L349.61,447.92 L351.34,458.31 L353.07,465.23 L354.81,467.50 L354.81,467.50 Z" fill="#aaaaaa" stroke="none"/>
<path d="M304.80,464.07 L305.19,466.96 L309.23,466.38 L312.69,465.23 L316.15,464.07 L319.61,461.77 L323.08,458.31 L326.54,453.69 L329.42,447.92 L331.73,441.00 L334.04,432.92 L336.34,426.00 L338.08,417.92 L339.81,412.15 L340.96,408.69 L341.77,406.96 L342.69,408.69 L343.61,407.54 L345.00,413.31 L346.73,420.23 L348.46,429.46 L350.19,439.84 L351.92,450.23 L353.65,459.46 L355.38,465.23 L357.11,466.96 L358.84,467.50 L368.00,467.50" fill="none" stroke="#111" stroke-width="1.3" stroke-linejoin="round"/>
<line x1="304.40" y1="402.20" x2="304.40" y2="468.30" stroke="#111" stroke-width="1.4" />
<line x1="303.70" y1="467.50" x2="368.00" y2="467.50" stroke="#111" stroke-width="1.5" />
<line x1="375.80" y1="403.40" x2="439.00" y2="403.40" stroke="#9a9a9a" stroke-width="1.2" />
<line x1="372.60" y1="467.30" x2="374.20" y2="467.30" stroke="#8a8a8a" stroke-width="0.9" />
<line x1="372.60" y1="455.22" x2="374.20" y2="455.22" stroke="#8a8a8a" stroke-width="0.9" />
<line x1="372.60" y1="443.14" x2="374.20" y2="443.14" stroke="#8a8a8a" stroke-width="0.9" />
<line x1="372.60" y1="431.06" x2="374.20" y2="431.06" stroke="#8a8a8a" stroke-width="0.9" />
<line x1="372.60" y1="418.98" x2="374.20" y2="418.98" stroke="#8a8a8a" stroke-width="0.9" />
<line x1="372.60" y1="406.90" x2="374.20" y2="406.90" stroke="#8a8a8a" stroke-width="0.9" />
<line x1="378.80" y1="467.90" x2="378.80" y2="469.30" stroke="#999" stroke-width="0.8" />
<line x1="393.10" y1="467.90" x2="393.10" y2="469.30" stroke="#999" stroke-width="0.8" />
<line x1="407.40" y1="467.90" x2="407.40" y2="469.30" stroke="#999" stroke-width="0.8" />
<line x1="421.70" y1="467.90" x2="421.70" y2="469.30" stroke="#999" stroke-width="0.8" />
<line x1="436.00" y1="467.90" x2="436.00" y2="469.30" stroke="#999" stroke-width="0.8" />
<path d="M402.50,467.30 L402.50,467.30 L404.42,465.23 L405.87,461.38 L406.83,453.69 L407.79,442.15 L408.75,428.69 L409.71,417.15 L410.67,410.42 L411.63,406.58 L412.60,410.42 L413.56,419.08 L414.52,430.62 L415.48,442.15 L416.92,453.69 L418.37,461.38 L419.81,465.71 L421.25,467.30 L421.25,467.30 Z" fill="#aaaaaa" stroke="none"/>
<path d="M375.80,467.30 L403.46,467.30 L405.38,466.19 L406.83,463.31 L408.27,455.62 L409.23,446.00 L410.19,434.46 L411.15,422.92 L412.12,414.27 L413.08,408.50 L414.04,407.06 L415.00,410.42 L415.77,415.23 L416.44,422.92 L417.40,434.46 L418.37,446.00 L419.33,455.62 L420.58,463.31 L421.73,466.67 L423.17,467.30 L439.00,467.30" fill="none" stroke="#111" stroke-width="1.3" stroke-linejoin="round"/>
<line x1="375.80" y1="401.90" x2="375.80" y2="468.10" stroke="#111" stroke-width="1.4" />
<line x1="375.10" y1="467.30" x2="439.00" y2="467.30" stroke="#111" stroke-width="1.5" />
<line x1="446.60" y1="403.40" x2="510.40" y2="403.40" stroke="#9a9a9a" stroke-width="1.2" />
<line x1="443.40" y1="467.30" x2="445.00" y2="467.30" stroke="#8a8a8a" stroke-width="0.9" />
<line x1="443.40" y1="455.22" x2="445.00" y2="455.22" stroke="#8a8a8a" stroke-width="0.9" />
<line x1="443.40" y1="443.14" x2="445.00" y2="443.14" stroke="#8a8a8a" stroke-width="0.9" />
<line x1="443.40" y1="431.06" x2="445.00" y2="431.06" stroke="#8a8a8a" stroke-width="0.9" />
<line x1="443.40" y1="418.98" x2="445.00" y2="418.98" stroke="#8a8a8a" stroke-width="0.9" />
<line x1="443.40" y1="406.90" x2="445.00" y2="406.90" stroke="#8a8a8a" stroke-width="0.9" />
<line x1="449.60" y1="467.90" x2="449.60" y2="469.30" stroke="#999" stroke-width="0.8" />
<line x1="464.05" y1="467.90" x2="464.05" y2="469.30" stroke="#999" stroke-width="0.8" />
<line x1="478.50" y1="467.90" x2="478.50" y2="469.30" stroke="#999" stroke-width="0.8" />
<line x1="492.95" y1="467.90" x2="492.95" y2="469.30" stroke="#999" stroke-width="0.8" />
<line x1="507.40" y1="467.90" x2="507.40" y2="469.30" stroke="#999" stroke-width="0.8" />
<path d="M469.62,467.30 L469.62,467.30 L471.54,465.23 L473.46,462.35 L475.38,456.58 L476.83,449.85 L478.27,440.23 L479.23,432.54 L480.19,424.85 L481.15,419.08 L482.60,413.31 L484.04,409.46 L485.19,408.02 L486.15,411.38 L487.40,418.12 L488.85,427.73 L490.29,438.31 L491.73,448.88 L493.17,457.54 L494.62,463.31 L496.06,466.67 L497.50,467.30 L497.50,467.30 Z" fill="#aaaaaa" stroke="none"/>
<path d="M446.60,467.30 L470.58,467.30 L473.46,466.67 L475.87,464.75 L477.79,461.38 L479.23,457.54 L480.67,451.77 L482.12,444.08 L483.56,435.42 L484.81,426.77 L485.77,419.08 L486.73,413.31 L487.88,409.46 L488.85,407.54 L489.81,409.46 L490.77,412.35 L491.54,417.15 L492.21,424.85 L492.88,434.46 L493.65,444.08 L494.42,452.73 L495.19,459.46 L496.06,464.27 L497.02,467.15 L498.46,467.30 L510.40,467.30" fill="none" stroke="#111" stroke-width="1.3" stroke-linejoin="round"/>
<line x1="446.60" y1="401.90" x2="446.60" y2="468.10" stroke="#111" stroke-width="1.4" />
<line x1="445.90" y1="467.30" x2="510.40" y2="467.30" stroke="#111" stroke-width="1.5" />
<text x="334.60" y="377.80" font-size="11.1" text-anchor="middle" font-weight="normal" fill="#111" >CD25</text>
<text x="405.40" y="377.80" font-size="11.1" text-anchor="middle" font-weight="normal" fill="#111" >CD69</text>
<text x="477.80" y="377.80" font-size="11.1" text-anchor="middle" font-weight="normal" fill="#111" >NKp30</text>
<text x="334.70" y="482.80" font-size="11.1" text-anchor="middle" font-weight="normal" fill="#111" >NKp44</text>
<text x="405.70" y="482.80" font-size="11.1" text-anchor="middle" font-weight="normal" fill="#111" >CXCR3</text>
<text x="477.00" y="482.80" font-size="11.1" text-anchor="middle" font-weight="normal" fill="#111" >NKG2D</text>
<rect x="361.00" y="496.60" width="9.20" height="9.20" fill="#6f6f6f" stroke="#111" stroke-width="1"/>
<rect x="361.00" y="513.40" width="9.20" height="9.20" fill="#fff" stroke="#111" stroke-width="1"/>
<text x="375.80" y="505.20" font-size="11.1" text-anchor="start" font-weight="normal" fill="#111" >IL2-expanded</text>
<text x="375.80" y="521.60" font-size="11.1" text-anchor="start" font-weight="normal" fill="#111" >IL15-expanded</text>
<polyline points="80.00,614.80 99.90,626.80 119.80,649.80 139.50,684.30" fill="none" stroke="#111" stroke-width="2.2" stroke-dasharray="5,3.6"/>
<polyline points="80.00,627.30 99.90,631.90 119.80,662.20 139.50,690.00" fill="none" stroke="#111" stroke-width="2.2"/>
<line x1="80.00" y1="605.60" x2="80.00" y2="632.90" stroke="#111" stroke-width="1.6" />
<line x1="75.70" y1="605.60" x2="84.30" y2="605.60" stroke="#111" stroke-width="1.6" />
<line x1="75.70" y1="632.90" x2="84.30" y2="632.90" stroke="#111" stroke-width="1.6" />
<line x1="75.70" y1="619.80" x2="84.30" y2="619.80" stroke="#111" stroke-width="1.6" />
<line x1="75.70" y1="622.80" x2="84.30" y2="622.80" stroke="#111" stroke-width="1.6" />
<line x1="99.90" y1="618.20" x2="99.90" y2="640.60" stroke="#111" stroke-width="1.6" />
<line x1="95.60" y1="618.20" x2="104.20" y2="618.20" stroke="#111" stroke-width="1.6" />
<line x1="95.60" y1="640.60" x2="104.20" y2="640.60" stroke="#111" stroke-width="1.6" />
<line x1="119.80" y1="643.80" x2="119.80" y2="670.60" stroke="#111" stroke-width="1.6" />
<line x1="115.50" y1="643.80" x2="124.10" y2="643.80" stroke="#111" stroke-width="1.6" />
<line x1="115.50" y1="670.60" x2="124.10" y2="670.60" stroke="#111" stroke-width="1.6" />
<line x1="115.50" y1="654.00" x2="124.10" y2="654.00" stroke="#111" stroke-width="1.6" />
<line x1="115.50" y1="656.60" x2="124.10" y2="656.60" stroke="#111" stroke-width="1.6" />
<line x1="139.50" y1="676.00" x2="139.50" y2="697.20" stroke="#111" stroke-width="1.6" />
<line x1="135.20" y1="676.00" x2="143.80" y2="676.00" stroke="#111" stroke-width="1.6" />
<line x1="135.20" y1="697.20" x2="143.80" y2="697.20" stroke="#111" stroke-width="1.6" />
<circle cx="80.00" cy="614.80" r="4.0" fill="#111" stroke="none" stroke-width="0"/>
<circle cx="99.90" cy="626.80" r="4.0" fill="#111" stroke="none" stroke-width="0"/>
<circle cx="119.80" cy="649.80" r="4.0" fill="#111" stroke="none" stroke-width="0"/>
<circle cx="139.50" cy="684.30" r="4.0" fill="#111" stroke="none" stroke-width="0"/>
<rect x="76.20" y="623.50" width="7.60" height="7.60" fill="#111" />
<rect x="96.10" y="628.10" width="7.60" height="7.60" fill="#111" />
<rect x="116.00" y="658.40" width="7.60" height="7.60" fill="#111" />
<rect x="135.70" y="686.20" width="7.60" height="7.60" fill="#111" />
<line x1="71.00" y1="595.07" x2="71.00" y2="736.60" stroke="#111" stroke-width="1.7" />
<line x1="67.20" y1="735.80" x2="151.30" y2="735.80" stroke="#111" stroke-width="1.6" />
<line x1="66.70" y1="735.80" x2="71.00" y2="735.80" stroke="#111" stroke-width="1.4" />
<text x="61.80" y="739.90" font-size="12.0" text-anchor="end" font-weight="normal" fill="#111" >0</text>
<line x1="66.70" y1="713.04" x2="71.00" y2="713.04" stroke="#111" stroke-width="1.4" />
<text x="61.80" y="717.14" font-size="12.0" text-anchor="end" font-weight="normal" fill="#111" >10</text>
<line x1="66.70" y1="690.29" x2="71.00" y2="690.29" stroke="#111" stroke-width="1.4" />
<text x="61.80" y="694.39" font-size="12.0" text-anchor="end" font-weight="normal" fill="#111" >20</text>
<line x1="66.70" y1="667.53" x2="71.00" y2="667.53" stroke="#111" stroke-width="1.4" />
<text x="61.80" y="671.63" font-size="12.0" text-anchor="end" font-weight="normal" fill="#111" >30</text>
<line x1="66.70" y1="644.78" x2="71.00" y2="644.78" stroke="#111" stroke-width="1.4" />
<text x="61.80" y="648.88" font-size="12.0" text-anchor="end" font-weight="normal" fill="#111" >40</text>
<line x1="66.70" y1="622.02" x2="71.00" y2="622.02" stroke="#111" stroke-width="1.4" />
<text x="61.80" y="626.12" font-size="12.0" text-anchor="end" font-weight="normal" fill="#111" >50</text>
<line x1="66.70" y1="599.27" x2="71.00" y2="599.27" stroke="#111" stroke-width="1.4" />
<text x="61.80" y="603.37" font-size="12.0" text-anchor="end" font-weight="normal" fill="#111" >60</text>
<line x1="80.00" y1="735.80" x2="80.00" y2="740.10" stroke="#111" stroke-width="1.4" />
<text transform="translate(83.90,746.40) rotate(-90)" font-size="11.2" text-anchor="end" fill="#111" >5:1</text>
<line x1="99.90" y1="735.80" x2="99.90" y2="740.10" stroke="#111" stroke-width="1.4" />
<text transform="translate(103.80,746.40) rotate(-90)" font-size="11.2" text-anchor="end" fill="#111" >2.5:1</text>
<line x1="119.80" y1="735.80" x2="119.80" y2="740.10" stroke="#111" stroke-width="1.4" />
<text transform="translate(123.70,746.40) rotate(-90)" font-size="11.2" text-anchor="end" fill="#111" >1.25:1</text>
<line x1="139.50" y1="735.80" x2="139.50" y2="740.10" stroke="#111" stroke-width="1.4" />
<text transform="translate(143.40,746.40) rotate(-90)" font-size="11.2" text-anchor="end" fill="#111" >0.625:1</text>
<text x="110.75" y="802.30" font-size="15" text-anchor="middle" font-weight="normal" fill="#111" textLength="48.5" lengthAdjust="spacingAndGlyphs">NK:K562</text>
<text x="110.30" y="587.40" font-size="14.5" text-anchor="middle" font-weight="normal" fill="#111" >Expanded</text>
<text transform="translate(39.30,665.90) rotate(-90)" font-size="14" text-anchor="middle" fill="#111" textLength="88.6" lengthAdjust="spacingAndGlyphs">% lysis of K562</text>
<polyline points="205.60,678.40 225.50,700.80 245.30,720.80 265.00,730.20" fill="none" stroke="#111" stroke-width="2.2" stroke-dasharray="5,3.6"/>
<polyline points="205.60,632.50 225.50,668.10 245.30,702.50 265.00,719.30" fill="none" stroke="#111" stroke-width="2.2"/>
<line x1="205.70" y1="622.30" x2="205.70" y2="641.50" stroke="#111" stroke-width="1.6" />
<line x1="201.40" y1="622.30" x2="210.00" y2="622.30" stroke="#111" stroke-width="1.6" />
<line x1="201.40" y1="641.50" x2="210.00" y2="641.50" stroke="#111" stroke-width="1.6" />
<line x1="265.00" y1="716.00" x2="265.00" y2="734.00" stroke="#111" stroke-width="1.6" />
<line x1="260.70" y1="716.00" x2="269.30" y2="716.00" stroke="#111" stroke-width="1.6" />
<line x1="260.70" y1="734.00" x2="269.30" y2="734.00" stroke="#111" stroke-width="1.6" />
<line x1="260.70" y1="725.60" x2="269.30" y2="725.60" stroke="#111" stroke-width="1.6" />
<circle cx="205.60" cy="678.40" r="4.0" fill="#111" stroke="none" stroke-width="0"/>
<circle cx="225.50" cy="700.80" r="4.0" fill="#111" stroke="none" stroke-width="0"/>
<circle cx="245.30" cy="720.80" r="4.0" fill="#111" stroke="none" stroke-width="0"/>
<circle cx="265.00" cy="730.20" r="4.0" fill="#111" stroke="none" stroke-width="0"/>
<rect x="201.80" y="628.70" width="7.60" height="7.60" fill="#111" />
<rect x="221.70" y="664.30" width="7.60" height="7.60" fill="#111" />
<rect x="241.50" y="698.70" width="7.60" height="7.60" fill="#111" />
<rect x="261.20" y="715.50" width="7.60" height="7.60" fill="#111" />
<line x1="195.00" y1="595.10" x2="195.00" y2="736.30" stroke="#111" stroke-width="1.7" />
<line x1="191.20" y1="735.50" x2="275.50" y2="735.50" stroke="#111" stroke-width="1.6" />
<line x1="190.70" y1="735.50" x2="195.00" y2="735.50" stroke="#111" stroke-width="1.4" />
<text x="185.80" y="739.60" font-size="12.0" text-anchor="end" font-weight="normal" fill="#111" >0</text>
<line x1="190.70" y1="701.45" x2="195.00" y2="701.45" stroke="#111" stroke-width="1.4" />
<text x="185.80" y="705.55" font-size="12.0" text-anchor="end" font-weight="normal" fill="#111" >10</text>
<line x1="190.70" y1="667.40" x2="195.00" y2="667.40" stroke="#111" stroke-width="1.4" />
<text x="185.80" y="671.50" font-size="12.0" text-anchor="end" font-weight="normal" fill="#111" >20</text>
<line x1="190.70" y1="633.35" x2="195.00" y2="633.35" stroke="#111" stroke-width="1.4" />
<text x="185.80" y="637.45" font-size="12.0" text-anchor="end" font-weight="normal" fill="#111" >30</text>
<line x1="190.70" y1="599.30" x2="195.00" y2="599.30" stroke="#111" stroke-width="1.4" />
<text x="185.80" y="603.40" font-size="12.0" text-anchor="end" font-weight="normal" fill="#111" >40</text>
<line x1="205.60" y1="735.50" x2="205.60" y2="739.80" stroke="#111" stroke-width="1.4" />
<text transform="translate(209.50,746.10) rotate(-90)" font-size="11.2" text-anchor="end" fill="#111" >5:1</text>
<line x1="225.50" y1="735.50" x2="225.50" y2="739.80" stroke="#111" stroke-width="1.4" />
<text transform="translate(229.40,746.10) rotate(-90)" font-size="11.2" text-anchor="end" fill="#111" >2.5:1</text>
<line x1="245.30" y1="735.50" x2="245.30" y2="739.80" stroke="#111" stroke-width="1.4" />
<text transform="translate(249.20,746.10) rotate(-90)" font-size="11.2" text-anchor="end" fill="#111" >1.25:1</text>
<line x1="265.00" y1="735.50" x2="265.00" y2="739.80" stroke="#111" stroke-width="1.4" />
<text transform="translate(268.90,746.10) rotate(-90)" font-size="11.2" text-anchor="end" fill="#111" >0.625:1</text>
<text x="234.85" y="802.30" font-size="15" text-anchor="middle" font-weight="normal" fill="#111" textLength="48.5" lengthAdjust="spacingAndGlyphs">NK:K562</text>
<text x="236.20" y="570.00" font-size="14.5" text-anchor="middle" font-weight="normal" fill="#111" >Cytokine</text>
<text x="236.20" y="586.30" font-size="14.5" text-anchor="middle" font-weight="normal" fill="#111" >withdrawal</text>
<polygon points="206.20,609.80 206.89,611.65 208.86,611.73 207.32,612.96 207.85,614.87 206.20,613.78 204.55,614.87 205.08,612.96 203.54,611.73 205.51,611.65" fill="#111"/>
<polygon points="211.80,609.80 212.49,611.65 214.46,611.73 212.92,612.96 213.45,614.87 211.80,613.78 210.15,614.87 210.68,612.96 209.14,611.73 211.11,611.65" fill="#111"/>
<polygon points="227.10,654.40 227.79,656.25 229.76,656.33 228.22,657.56 228.75,659.47 227.10,658.38 225.45,659.47 225.98,657.56 224.44,656.33 226.41,656.25" fill="#111"/>
<polygon points="232.70,654.40 233.39,656.25 235.36,656.33 233.82,657.56 234.35,659.47 232.70,658.38 231.05,659.47 231.58,657.56 230.04,656.33 232.01,656.25" fill="#111"/>
<polygon points="238.30,654.40 238.99,656.25 240.96,656.33 239.42,657.56 239.95,659.47 238.30,658.38 236.65,659.47 237.18,657.56 235.64,656.33 237.61,656.25" fill="#111"/>
<polygon points="250.60,690.00 251.29,691.85 253.26,691.93 251.72,693.16 252.25,695.07 250.60,693.98 248.95,695.07 249.48,693.16 247.94,691.93 249.91,691.85" fill="#111"/>
<polygon points="256.20,690.00 256.89,691.85 258.86,691.93 257.32,693.16 257.85,695.07 256.20,693.98 254.55,695.07 255.08,693.16 253.54,691.93 255.51,691.85" fill="#111"/>
<text x="10.80" y="572.60" font-size="16.5" text-anchor="start" font-weight="bold" fill="#111" >C</text>
<text x="298.70" y="573.00" font-size="16.5" text-anchor="start" font-weight="bold" fill="#111" >D</text>
<line x1="379.20" y1="594.45" x2="379.20" y2="736.20" stroke="#111" stroke-width="1.7" />
<line x1="375.40" y1="735.40" x2="459.60" y2="735.40" stroke="#111" stroke-width="1.6" />
<line x1="374.90" y1="735.40" x2="379.20" y2="735.40" stroke="#111" stroke-width="1.4" />
<text x="370.50" y="739.40" font-size="11.7" text-anchor="end" font-weight="normal" fill="#111" >0.0</text>
<line x1="374.90" y1="689.95" x2="379.20" y2="689.95" stroke="#111" stroke-width="1.4" />
<text x="370.50" y="693.95" font-size="11.7" text-anchor="end" font-weight="normal" fill="#111" >0.5</text>
<line x1="374.90" y1="644.50" x2="379.20" y2="644.50" stroke="#111" stroke-width="1.4" />
<text x="370.50" y="648.50" font-size="11.7" text-anchor="end" font-weight="normal" fill="#111" >1.0</text>
<line x1="374.90" y1="599.05" x2="379.20" y2="599.05" stroke="#111" stroke-width="1.4" />
<text x="370.50" y="603.05" font-size="11.7" text-anchor="end" font-weight="normal" fill="#111" >1.5</text>
<line x1="399.10" y1="735.40" x2="399.10" y2="739.60" stroke="#111" stroke-width="1.4" />
<text transform="translate(403.00,745.60) rotate(-90)" font-size="11.6" text-anchor="end" fill="#111" >IL2-NK</text>
<line x1="438.80" y1="735.40" x2="438.80" y2="739.60" stroke="#111" stroke-width="1.4" />
<text transform="translate(442.70,745.60) rotate(-90)" font-size="11.6" text-anchor="end" fill="#111" >IL15-NK</text>
<text x="410.50" y="593.30" font-size="11.2" text-anchor="middle" font-weight="normal" fill="#111" >p = 0.03</text>
<text transform="translate(328.40,665.60) rotate(-90)" font-size="12.9" text-anchor="middle" fill="#111" >NK cell frequency in</text>
<text transform="translate(345.60,665.00) rotate(-90)" font-size="13.4" text-anchor="middle" fill="#111" >liver [%]</text>
<circle cx="399.30" cy="684.60" r="3.9" fill="#111" stroke="none" stroke-width="0"/>
<circle cx="399.30" cy="701.30" r="3.9" fill="#111" stroke="none" stroke-width="0"/>
<circle cx="392.00" cy="707.40" r="3.9" fill="#111" stroke="none" stroke-width="0"/>
<circle cx="393.10" cy="720.80" r="3.9" fill="#111" stroke="none" stroke-width="0"/>
<circle cx="398.00" cy="716.50" r="3.9" fill="#111" stroke="none" stroke-width="0"/>
<circle cx="403.50" cy="716.00" r="3.9" fill="#111" stroke="none" stroke-width="0"/>
<circle cx="405.40" cy="721.50" r="3.9" fill="#111" stroke="none" stroke-width="0"/>
<circle cx="399.30" cy="732.30" r="3.9" fill="#111" stroke="none" stroke-width="0"/>
<line x1="386.30" y1="712.90" x2="411.90" y2="712.90" stroke="#111" stroke-width="1.7" />
<line x1="399.40" y1="699.00" x2="399.40" y2="727.00" stroke="#111" stroke-width="1.6" />
<line x1="394.00" y1="699.00" x2="405.00" y2="699.00" stroke="#111" stroke-width="1.6" />
<line x1="394.00" y1="727.00" x2="405.00" y2="727.00" stroke="#111" stroke-width="1.6" />
<rect x="435.00" y="605.40" width="7.60" height="7.60" fill="#111" />
<rect x="435.00" y="620.20" width="7.60" height="7.60" fill="#111" />
<rect x="428.70" y="662.00" width="7.60" height="7.60" fill="#111" />
<rect x="441.60" y="673.20" width="7.60" height="7.60" fill="#111" />
<rect x="428.20" y="705.40" width="7.60" height="7.60" fill="#111" />
<rect x="442.20" y="702.90" width="7.60" height="7.60" fill="#111" />
<rect x="438.90" y="713.50" width="7.60" height="7.60" fill="#111" />
<rect x="432.00" y="716.40" width="7.60" height="7.60" fill="#111" />
<line x1="425.80" y1="678.80" x2="451.70" y2="678.80" stroke="#111" stroke-width="1.7" />
<line x1="438.80" y1="636.20" x2="438.80" y2="721.00" stroke="#111" stroke-width="1.6" />
<line x1="432.50" y1="636.20" x2="445.60" y2="636.20" stroke="#111" stroke-width="1.6" />
<rect x="66.00" y="966.20" width="9.80" height="15.90" fill="#111" />
<rect x="80.80" y="908.69" width="9.80" height="73.41" fill="#111" />
<line x1="85.70" y1="882.34" x2="85.70" y2="908.69" stroke="#111" stroke-width="1.5" />
<line x1="83.10" y1="882.34" x2="88.30" y2="882.34" stroke="#111" stroke-width="1.6" />
<rect x="105.50" y="895.91" width="9.80" height="86.19" fill="#cacaca" />
<line x1="110.40" y1="856.78" x2="110.40" y2="895.91" stroke="#111" stroke-width="1.5" />
<line x1="107.80" y1="856.78" x2="113.00" y2="856.78" stroke="#111" stroke-width="1.6" />
<rect x="120.30" y="955.02" width="9.80" height="27.08" fill="#cacaca" />
<line x1="125.20" y1="936.65" x2="125.20" y2="955.02" stroke="#111" stroke-width="1.5" />
<line x1="122.60" y1="936.65" x2="127.80" y2="936.65" stroke="#111" stroke-width="1.6" />
<line x1="58.70" y1="968.60" x2="138.70" y2="968.60" stroke="#111" stroke-width="1.8" stroke-dasharray="5,4.6"/>
<polyline points="111.20,852.80 111.20,845.30 127.50,845.30 127.50,916.40" fill="none" stroke="#111" stroke-width="1.6"/>
<polygon points="119.65,837.50 120.27,839.15 122.03,839.23 120.65,840.32 121.12,842.02 119.65,841.05 118.18,842.02 118.65,840.32 117.27,839.23 119.03,839.15" fill="#111"/>
<line x1="58.70" y1="841.50" x2="58.70" y2="982.90" stroke="#111" stroke-width="1.7" />
<line x1="58.70" y1="982.10" x2="138.70" y2="982.10" stroke="#111" stroke-width="1.8" />
<line x1="54.40" y1="966.20" x2="58.70" y2="966.20" stroke="#111" stroke-width="1.4" />
<text x="49.20" y="970.40" font-size="12.0" text-anchor="end" font-weight="normal" fill="#111" >1.0</text>
<line x1="54.40" y1="926.27" x2="58.70" y2="926.27" stroke="#111" stroke-width="1.4" />
<text x="49.20" y="930.47" font-size="12.0" text-anchor="end" font-weight="normal" fill="#111" >1.5</text>
<line x1="54.40" y1="886.33" x2="58.70" y2="886.33" stroke="#111" stroke-width="1.4" />
<text x="49.20" y="890.53" font-size="12.0" text-anchor="end" font-weight="normal" fill="#111" >2.0</text>
<line x1="54.40" y1="846.39" x2="58.70" y2="846.39" stroke="#111" stroke-width="1.4" />
<text x="49.20" y="850.60" font-size="12.0" text-anchor="end" font-weight="normal" fill="#111" >2.5</text>
<line x1="70.90" y1="982.10" x2="70.90" y2="986.10" stroke="#111" stroke-width="1.4" />
<text transform="translate(75.20,991.80) rotate(-90)" font-size="11.9" text-anchor="end" fill="#111" >IL2</text>
<text transform="translate(75.20,1026.86) rotate(-90)" font-size="11.9" text-anchor="end" fill="#111" >IL2</text>
<line x1="72.20" y1="1012.55" x2="72.20" y2="1024.15" stroke="#111" stroke-width="0.9" />
<polygon points="72.20,1011.05 70.30,1014.65 74.10,1014.65" fill="#111"/>
<line x1="85.70" y1="982.10" x2="85.70" y2="986.10" stroke="#111" stroke-width="1.4" />
<text transform="translate(90.00,991.80) rotate(-90)" font-size="11.9" text-anchor="end" fill="#111" >IL15</text>
<text transform="translate(90.00,1033.47) rotate(-90)" font-size="11.9" text-anchor="end" fill="#111" >IL2</text>
<line x1="87.00" y1="1019.17" x2="87.00" y2="1030.77" stroke="#111" stroke-width="0.9" />
<polygon points="87.00,1017.67 85.10,1021.27 88.90,1021.27" fill="#111"/>
<line x1="110.40" y1="982.10" x2="110.40" y2="986.10" stroke="#111" stroke-width="1.4" />
<text transform="translate(114.70,991.80) rotate(-90)" font-size="11.9" text-anchor="end" fill="#111" >IL15</text>
<text transform="translate(114.70,1033.47) rotate(-90)" font-size="11.9" text-anchor="end" fill="#111" >IL15</text>
<line x1="111.70" y1="1019.17" x2="111.70" y2="1030.77" stroke="#111" stroke-width="0.9" />
<polygon points="111.70,1017.67 109.80,1021.27 113.60,1021.27" fill="#111"/>
<line x1="125.20" y1="982.10" x2="125.20" y2="986.10" stroke="#111" stroke-width="1.4" />
<text transform="translate(129.50,991.80) rotate(-90)" font-size="11.9" text-anchor="end" fill="#111" >IL2</text>
<text transform="translate(129.50,1026.86) rotate(-90)" font-size="11.9" text-anchor="end" fill="#111" >IL15</text>
<line x1="126.50" y1="1012.55" x2="126.50" y2="1024.15" stroke="#111" stroke-width="0.9" />
<polygon points="126.50,1011.05 124.60,1014.65 128.40,1014.65" fill="#111"/>
<text x="98.50" y="832.40" font-size="14.3" text-anchor="middle" font-weight="normal" fill="#111" >CD25</text>
<rect x="190.30" y="966.20" width="9.80" height="15.90" fill="#111" />
<rect x="205.10" y="919.88" width="9.80" height="62.22" fill="#111" />
<line x1="210.00" y1="901.51" x2="210.00" y2="919.88" stroke="#111" stroke-width="1.5" />
<line x1="207.40" y1="901.51" x2="212.60" y2="901.51" stroke="#111" stroke-width="1.6" />
<rect x="229.80" y="887.93" width="9.80" height="94.17" fill="#cacaca" />
<line x1="234.70" y1="871.95" x2="234.70" y2="887.93" stroke="#111" stroke-width="1.5" />
<line x1="232.10" y1="871.95" x2="237.30" y2="871.95" stroke="#111" stroke-width="1.6" />
<rect x="244.60" y="944.64" width="9.80" height="37.46" fill="#cacaca" />
<line x1="249.50" y1="925.47" x2="249.50" y2="944.64" stroke="#111" stroke-width="1.5" />
<line x1="246.90" y1="925.47" x2="252.10" y2="925.47" stroke="#111" stroke-width="1.6" />
<line x1="183.00" y1="966.20" x2="263.00" y2="966.20" stroke="#111" stroke-width="1.8" stroke-dasharray="5,4.6"/>
<polyline points="235.50,858.70 235.50,850.10 249.20,850.10 249.20,913.30" fill="none" stroke="#111" stroke-width="1.6"/>
<polygon points="242.65,842.30 243.27,843.95 245.03,844.03 243.65,845.12 244.12,846.82 242.65,845.85 241.18,846.82 241.65,845.12 240.27,844.03 242.03,843.95" fill="#111"/>
<line x1="183.00" y1="841.50" x2="183.00" y2="982.90" stroke="#111" stroke-width="1.7" />
<line x1="183.00" y1="982.10" x2="263.00" y2="982.10" stroke="#111" stroke-width="1.8" />
<line x1="178.70" y1="966.20" x2="183.00" y2="966.20" stroke="#111" stroke-width="1.4" />
<text x="173.50" y="970.40" font-size="12.0" text-anchor="end" font-weight="normal" fill="#111" >1.0</text>
<line x1="178.70" y1="926.27" x2="183.00" y2="926.27" stroke="#111" stroke-width="1.4" />
<text x="173.50" y="930.47" font-size="12.0" text-anchor="end" font-weight="normal" fill="#111" >1.5</text>
<line x1="178.70" y1="886.33" x2="183.00" y2="886.33" stroke="#111" stroke-width="1.4" />
<text x="173.50" y="890.53" font-size="12.0" text-anchor="end" font-weight="normal" fill="#111" >2.0</text>
<line x1="178.70" y1="846.39" x2="183.00" y2="846.39" stroke="#111" stroke-width="1.4" />
<text x="173.50" y="850.60" font-size="12.0" text-anchor="end" font-weight="normal" fill="#111" >2.5</text>
<line x1="195.20" y1="982.10" x2="195.20" y2="986.10" stroke="#111" stroke-width="1.4" />
<text transform="translate(199.50,991.80) rotate(-90)" font-size="11.9" text-anchor="end" fill="#111" >IL2</text>
<text transform="translate(199.50,1026.86) rotate(-90)" font-size="11.9" text-anchor="end" fill="#111" >IL2</text>
<line x1="196.50" y1="1012.55" x2="196.50" y2="1024.15" stroke="#111" stroke-width="0.9" />
<polygon points="196.50,1011.05 194.60,1014.65 198.40,1014.65" fill="#111"/>
<line x1="210.00" y1="982.10" x2="210.00" y2="986.10" stroke="#111" stroke-width="1.4" />
<text transform="translate(214.30,991.80) rotate(-90)" font-size="11.9" text-anchor="end" fill="#111" >IL15</text>
<text transform="translate(214.30,1033.47) rotate(-90)" font-size="11.9" text-anchor="end" fill="#111" >IL2</text>
<line x1="211.30" y1="1019.17" x2="211.30" y2="1030.77" stroke="#111" stroke-width="0.9" />
<polygon points="211.30,1017.67 209.40,1021.27 213.20,1021.27" fill="#111"/>
<line x1="234.70" y1="982.10" x2="234.70" y2="986.10" stroke="#111" stroke-width="1.4" />
<text transform="translate(239.00,991.80) rotate(-90)" font-size="11.9" text-anchor="end" fill="#111" >IL15</text>
<text transform="translate(239.00,1033.47) rotate(-90)" font-size="11.9" text-anchor="end" fill="#111" >IL15</text>
<line x1="236.00" y1="1019.17" x2="236.00" y2="1030.77" stroke="#111" stroke-width="0.9" />
<polygon points="236.00,1017.67 234.10,1021.27 237.90,1021.27" fill="#111"/>
<line x1="249.50" y1="982.10" x2="249.50" y2="986.10" stroke="#111" stroke-width="1.4" />
<text transform="translate(253.80,991.80) rotate(-90)" font-size="11.9" text-anchor="end" fill="#111" >IL2</text>
<text transform="translate(253.80,1026.86) rotate(-90)" font-size="11.9" text-anchor="end" fill="#111" >IL15</text>
<line x1="250.80" y1="1012.55" x2="250.80" y2="1024.15" stroke="#111" stroke-width="0.9" />
<polygon points="250.80,1011.05 248.90,1014.65 252.70,1014.65" fill="#111"/>
<text x="222.80" y="832.40" font-size="14.3" text-anchor="middle" font-weight="normal" fill="#111" >CD69</text>
<rect x="315.30" y="966.20" width="9.80" height="15.90" fill="#111" />
<rect x="330.10" y="913.49" width="9.80" height="68.61" fill="#111" />
<line x1="335.00" y1="895.12" x2="335.00" y2="913.49" stroke="#111" stroke-width="1.5" />
<line x1="332.40" y1="895.12" x2="337.60" y2="895.12" stroke="#111" stroke-width="1.6" />
<rect x="354.80" y="920.67" width="9.80" height="61.43" fill="#cacaca" />
<line x1="359.70" y1="896.71" x2="359.70" y2="920.67" stroke="#111" stroke-width="1.5" />
<line x1="357.10" y1="896.71" x2="362.30" y2="896.71" stroke="#111" stroke-width="1.6" />
<rect x="369.60" y="964.60" width="9.80" height="17.50" fill="#cacaca" />
<line x1="374.50" y1="954.22" x2="374.50" y2="964.60" stroke="#111" stroke-width="1.5" />
<line x1="371.90" y1="954.22" x2="377.10" y2="954.22" stroke="#111" stroke-width="1.6" />
<line x1="308.00" y1="966.20" x2="388.00" y2="966.20" stroke="#111" stroke-width="1.8" stroke-dasharray="5,4.6"/>
<polyline points="359.50,885.30 359.50,874.00 375.00,874.00 375.00,946.10" fill="none" stroke="#111" stroke-width="1.6"/>
<polygon points="367.55,866.20 368.17,867.85 369.93,867.93 368.55,869.02 369.02,870.72 367.55,869.75 366.08,870.72 366.55,869.02 365.17,867.93 366.93,867.85" fill="#111"/>
<line x1="308.00" y1="841.50" x2="308.00" y2="982.90" stroke="#111" stroke-width="1.7" />
<line x1="308.00" y1="982.10" x2="388.00" y2="982.10" stroke="#111" stroke-width="1.8" />
<line x1="303.70" y1="966.20" x2="308.00" y2="966.20" stroke="#111" stroke-width="1.4" />
<text x="298.50" y="970.40" font-size="12.0" text-anchor="end" font-weight="normal" fill="#111" >1.0</text>
<line x1="303.70" y1="926.27" x2="308.00" y2="926.27" stroke="#111" stroke-width="1.4" />
<text x="298.50" y="930.47" font-size="12.0" text-anchor="end" font-weight="normal" fill="#111" >1.5</text>
<line x1="303.70" y1="886.33" x2="308.00" y2="886.33" stroke="#111" stroke-width="1.4" />
<text x="298.50" y="890.53" font-size="12.0" text-anchor="end" font-weight="normal" fill="#111" >2.0</text>
<line x1="303.70" y1="846.39" x2="308.00" y2="846.39" stroke="#111" stroke-width="1.4" />
<text x="298.50" y="850.60" font-size="12.0" text-anchor="end" font-weight="normal" fill="#111" >2.5</text>
<line x1="320.20" y1="982.10" x2="320.20" y2="986.10" stroke="#111" stroke-width="1.4" />
<text transform="translate(324.50,991.80) rotate(-90)" font-size="11.9" text-anchor="end" fill="#111" >IL2</text>
<text transform="translate(324.50,1026.86) rotate(-90)" font-size="11.9" text-anchor="end" fill="#111" >IL2</text>
<line x1="321.50" y1="1012.55" x2="321.50" y2="1024.15" stroke="#111" stroke-width="0.9" />
<polygon points="321.50,1011.05 319.60,1014.65 323.40,1014.65" fill="#111"/>
<line x1="335.00" y1="982.10" x2="335.00" y2="986.10" stroke="#111" stroke-width="1.4" />
<text transform="translate(339.30,991.80) rotate(-90)" font-size="11.9" text-anchor="end" fill="#111" >IL15</text>
<text transform="translate(339.30,1033.47) rotate(-90)" font-size="11.9" text-anchor="end" fill="#111" >IL2</text>
<line x1="336.30" y1="1019.17" x2="336.30" y2="1030.77" stroke="#111" stroke-width="0.9" />
<polygon points="336.30,1017.67 334.40,1021.27 338.20,1021.27" fill="#111"/>
<line x1="359.70" y1="982.10" x2="359.70" y2="986.10" stroke="#111" stroke-width="1.4" />
<text transform="translate(364.00,991.80) rotate(-90)" font-size="11.9" text-anchor="end" fill="#111" >IL15</text>
<text transform="translate(364.00,1033.47) rotate(-90)" font-size="11.9" text-anchor="end" fill="#111" >IL15</text>
<line x1="361.00" y1="1019.17" x2="361.00" y2="1030.77" stroke="#111" stroke-width="0.9" />
<polygon points="361.00,1017.67 359.10,1021.27 362.90,1021.27" fill="#111"/>
<line x1="374.50" y1="982.10" x2="374.50" y2="986.10" stroke="#111" stroke-width="1.4" />
<text transform="translate(378.80,991.80) rotate(-90)" font-size="11.9" text-anchor="end" fill="#111" >IL2</text>
<text transform="translate(378.80,1026.86) rotate(-90)" font-size="11.9" text-anchor="end" fill="#111" >IL15</text>
<line x1="375.80" y1="1012.55" x2="375.80" y2="1024.15" stroke="#111" stroke-width="0.9" />
<polygon points="375.80,1011.05 373.90,1014.65 377.70,1014.65" fill="#111"/>
<text x="348.90" y="832.40" font-size="14.3" text-anchor="middle" font-weight="normal" fill="#111" >NKp30</text>
<rect x="440.40" y="966.20" width="9.80" height="15.90" fill="#111" />
<rect x="455.20" y="955.42" width="9.80" height="26.68" fill="#111" />
<line x1="460.10" y1="951.82" x2="460.10" y2="955.42" stroke="#111" stroke-width="1.5" />
<line x1="457.50" y1="951.82" x2="462.70" y2="951.82" stroke="#111" stroke-width="1.6" />
<rect x="479.90" y="947.83" width="9.80" height="34.27" fill="#cacaca" />
<line x1="484.80" y1="934.25" x2="484.80" y2="947.83" stroke="#111" stroke-width="1.5" />
<line x1="482.20" y1="934.25" x2="487.40" y2="934.25" stroke="#111" stroke-width="1.6" />
<rect x="494.70" y="961.65" width="9.80" height="20.45" fill="#cacaca" />
<line x1="499.60" y1="953.42" x2="499.60" y2="961.65" stroke="#111" stroke-width="1.5" />
<line x1="497.00" y1="953.42" x2="502.20" y2="953.42" stroke="#111" stroke-width="1.6" />
<line x1="433.10" y1="966.20" x2="513.20" y2="966.20" stroke="#111" stroke-width="1.8" stroke-dasharray="5,4.6"/>
<line x1="433.10" y1="841.50" x2="433.10" y2="982.90" stroke="#111" stroke-width="1.7" />
<line x1="433.10" y1="982.10" x2="513.20" y2="982.10" stroke="#111" stroke-width="1.8" />
<line x1="428.80" y1="966.20" x2="433.10" y2="966.20" stroke="#111" stroke-width="1.4" />
<text x="423.60" y="970.40" font-size="12.0" text-anchor="end" font-weight="normal" fill="#111" >1.0</text>
<line x1="428.80" y1="926.27" x2="433.10" y2="926.27" stroke="#111" stroke-width="1.4" />
<text x="423.60" y="930.47" font-size="12.0" text-anchor="end" font-weight="normal" fill="#111" >1.5</text>
<line x1="428.80" y1="886.33" x2="433.10" y2="886.33" stroke="#111" stroke-width="1.4" />
<text x="423.60" y="890.53" font-size="12.0" text-anchor="end" font-weight="normal" fill="#111" >2.0</text>
<line x1="428.80" y1="846.39" x2="433.10" y2="846.39" stroke="#111" stroke-width="1.4" />
<text x="423.60" y="850.60" font-size="12.0" text-anchor="end" font-weight="normal" fill="#111" >2.5</text>
<line x1="445.30" y1="982.10" x2="445.30" y2="986.10" stroke="#111" stroke-width="1.4" />
<text transform="translate(449.60,991.80) rotate(-90)" font-size="11.9" text-anchor="end" fill="#111" >IL2</text>
<text transform="translate(449.60,1026.86) rotate(-90)" font-size="11.9" text-anchor="end" fill="#111" >IL2</text>
<line x1="446.60" y1="1012.55" x2="446.60" y2="1024.15" stroke="#111" stroke-width="0.9" />
<polygon points="446.60,1011.05 444.70,1014.65 448.50,1014.65" fill="#111"/>
<line x1="460.10" y1="982.10" x2="460.10" y2="986.10" stroke="#111" stroke-width="1.4" />
<text transform="translate(464.40,991.80) rotate(-90)" font-size="11.9" text-anchor="end" fill="#111" >IL15</text>
<text transform="translate(464.40,1033.47) rotate(-90)" font-size="11.9" text-anchor="end" fill="#111" >IL2</text>
<line x1="461.40" y1="1019.17" x2="461.40" y2="1030.77" stroke="#111" stroke-width="0.9" />
<polygon points="461.40,1017.67 459.50,1021.27 463.30,1021.27" fill="#111"/>
<line x1="484.80" y1="982.10" x2="484.80" y2="986.10" stroke="#111" stroke-width="1.4" />
<text transform="translate(489.10,991.80) rotate(-90)" font-size="11.9" text-anchor="end" fill="#111" >IL15</text>
<text transform="translate(489.10,1033.47) rotate(-90)" font-size="11.9" text-anchor="end" fill="#111" >IL15</text>
<line x1="486.10" y1="1019.17" x2="486.10" y2="1030.77" stroke="#111" stroke-width="0.9" />
<polygon points="486.10,1017.67 484.20,1021.27 488.00,1021.27" fill="#111"/>
<line x1="499.60" y1="982.10" x2="499.60" y2="986.10" stroke="#111" stroke-width="1.4" />
<text transform="translate(503.90,991.80) rotate(-90)" font-size="11.9" text-anchor="end" fill="#111" >IL2</text>
<text transform="translate(503.90,1026.86) rotate(-90)" font-size="11.9" text-anchor="end" fill="#111" >IL15</text>
<line x1="500.90" y1="1012.55" x2="500.90" y2="1024.15" stroke="#111" stroke-width="0.9" />
<polygon points="500.90,1011.05 499.00,1014.65 502.80,1014.65" fill="#111"/>
<text x="472.50" y="832.40" font-size="14.3" text-anchor="middle" font-weight="normal" fill="#111" >DNAM-1</text>
<text x="10.30" y="835.20" font-size="16.5" text-anchor="start" font-weight="bold" fill="#111" >E</text>
<text transform="translate(24.40,911.90) rotate(-90)" font-size="12.6" text-anchor="middle" fill="#111" textLength="73.8" lengthAdjust="spacingAndGlyphs">Fold changes</text>
</svg>
<div class="frame"></div>
</body></html>
